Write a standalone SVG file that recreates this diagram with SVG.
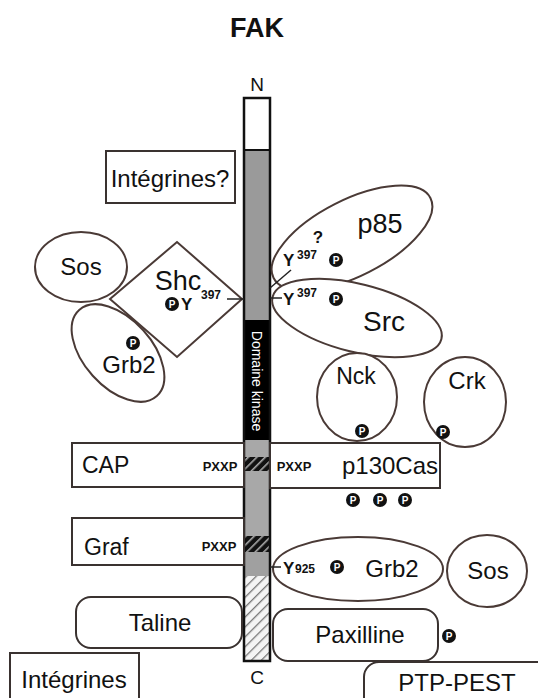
<svg xmlns="http://www.w3.org/2000/svg" width="538" height="698" viewBox="0 0 538 698">
<style>
text{font-family:"Liberation Sans",Arial,sans-serif;fill:#111}
.sh{fill:#fff;stroke:#4a3a36;stroke-width:2}
.bx{fill:#fff;stroke:#3a3230;stroke-width:2}
.lbl{font-size:24px;text-anchor:middle}
.lbll{font-size:23px}
.pc{fill:#111}
.pt{fill:#fff;font-size:10px;font-weight:bold;text-anchor:middle}
.small{font-size:13px;font-weight:bold}
.y{font-size:17px;font-weight:bold}
.sup{font-size:12px;font-weight:bold}
.dash{stroke:#222;stroke-width:1.5}
</style>
<defs>
<pattern id="darkHatch" patternUnits="userSpaceOnUse" width="6" height="6" patternTransform="rotate(45)">
<rect width="6" height="6" fill="#111"/>
<rect width="1.6" height="6" fill="#aaa"/>
</pattern>
<pattern id="lightHatch" patternUnits="userSpaceOnUse" width="7" height="7" patternTransform="rotate(45)">
<rect width="7" height="7" fill="#f4f4f4"/>
<rect width="1.3" height="7" fill="#777"/>
</pattern>
<g id="P"><circle r="7" class="pc"/><text y="3.6" class="pt">P</text></g>
</defs>

<text x="257" y="37" font-size="27" font-weight="bold" text-anchor="middle">FAK</text>
<text x="257" y="91" font-size="19" text-anchor="middle">N</text>
<text x="257" y="684" font-size="19" text-anchor="middle">C</text>

<g id="fak">
<rect x="244" y="98" width="26" height="52" fill="#fff"/>
<rect x="244" y="150" width="26" height="170" fill="#9a9a9a"/>
<rect x="244" y="320" width="26" height="120" fill="#000"/>
<rect x="244" y="440" width="26" height="17" fill="#a8a8a8"/>
<rect x="244" y="457" width="26" height="14" fill="url(#darkHatch)"/>
<rect x="244" y="471" width="26" height="65" fill="#a8a8a8"/>
<rect x="244" y="536" width="26" height="16" fill="url(#darkHatch)"/>
<rect x="244" y="552" width="26" height="24" fill="#a0a0a0"/>
<rect x="244" y="576" width="26" height="85" fill="url(#lightHatch)"/>
<line x1="244" y1="150" x2="270" y2="150" stroke="#111" stroke-width="2"/>
<rect x="244" y="98" width="26" height="563" fill="none" stroke="#111" stroke-width="2.5"/>
<text transform="translate(252,381) rotate(90)" font-size="14" text-anchor="middle" style="fill:#fff">Domaine kinase</text>
</g>

<g id="integrines-q">
<rect x="106" y="151" width="129" height="52" class="bx"/>
<text x="170" y="187" class="lbl">Intégrines?</text>
</g>

<g id="sos-left">
<ellipse cx="81" cy="267" rx="46" ry="35" class="sh"/>
<text x="81" y="275" class="lbl">Sos</text>
</g>

<g id="grb2-left">
<ellipse cx="118" cy="353" rx="58" ry="34" transform="rotate(48 118 353)" class="sh"/>
<use href="#P" x="133" y="343"/>
<text x="129" y="373" class="lbl">Grb2</text>
</g>

<g id="shc">
<polygon points="110,299 177,242 242,299 177,357" class="sh"/>
<text x="178" y="290" font-size="27" text-anchor="middle">Shc</text>
<use href="#P" x="172" y="304"/>
<text x="181" y="310" class="y">Y</text>
<text x="201" y="299" class="sup">397</text>
<line x1="227" y1="299" x2="244" y2="299" class="dash"/>
</g>

<g id="p85">
<ellipse cx="352" cy="238" rx="88" ry="38" transform="rotate(-27 352 238)" class="sh"/>
<text x="380" y="233" font-size="27" text-anchor="middle">p85</text>
<text x="318" y="243" font-size="17" font-weight="bold" text-anchor="middle">?</text>
<text x="283" y="266" class="y">Y</text>
<text x="297" y="259" class="sup">397</text>
<use href="#P" x="336" y="260"/>
<line x1="270" y1="288" x2="291" y2="270" class="dash" stroke-width="1.2"/>
</g>

<g id="src">
<ellipse cx="357" cy="318" rx="87" ry="34" transform="rotate(14 357 318)" class="sh"/>
<text x="384" y="331" font-size="28" text-anchor="middle">Src</text>
<line x1="270" y1="298" x2="282" y2="298" class="dash"/>
<text x="283" y="305" class="y">Y</text>
<text x="297" y="297" class="sup">397</text>
<use href="#P" x="336" y="299"/>
</g>

<g id="nck">
<ellipse cx="357" cy="397" rx="40" ry="44" class="sh"/>
<text x="356" y="384" font-size="23" text-anchor="middle">Nck</text>
<use href="#P" x="362" y="431"/>
</g>

<g id="crk">
<ellipse cx="465" cy="402" rx="41" ry="45" class="sh"/>
<text x="467" y="389" font-size="24" text-anchor="middle">Crk</text>
</g>

<g id="cap">
<rect x="72" y="443" width="172" height="44" class="bx"/>
<text x="82" y="473" class="lbll">CAP</text>
<text x="220" y="471" class="small" text-anchor="middle">PXXP</text>
</g>

<g id="p130cas">
<rect x="270" y="443" width="170" height="45" class="bx"/>
<text x="294" y="471" class="small" text-anchor="middle">PXXP</text>
<text x="390" y="474" font-size="24" text-anchor="middle">p130Cas</text>
<use href="#P" x="353" y="500"/>
<use href="#P" x="380" y="500"/>
<use href="#P" x="405" y="500"/>
</g>
<use href="#P" x="443" y="432"/>

<g id="graf">
<rect x="72" y="518" width="172" height="47" class="bx"/>
<text x="84" y="555" class="lbll" font-size="24">Graf</text>
<text x="219" y="551" class="small" text-anchor="middle">PXXP</text>
</g>

<g id="grb2-right">
<ellipse cx="358" cy="569" rx="85" ry="32" class="sh"/>
<line x1="270" y1="567" x2="281" y2="567" class="dash"/>
<text x="283" y="574" class="y">Y</text>
<text x="295" y="573" class="sup">925</text>
<use href="#P" x="337" y="567"/>
<text x="392" y="577" class="lbl">Grb2</text>
</g>

<g id="sos-right">
<ellipse cx="487" cy="571" rx="40" ry="36" class="sh"/>
<text x="488" y="579" class="lbl" font-size="25">Sos</text>
</g>

<g id="taline">
<rect x="76" y="597" width="166" height="51" rx="15" class="bx"/>
<text x="160" y="631" class="lbl" font-size="23">Taline</text>
</g>

<g id="paxilline">
<rect x="273" y="609" width="165" height="52" rx="15" class="bx"/>
<text x="360" y="643" class="lbl">Paxilline</text>
<use href="#P" x="449" y="636"/>
</g>

<g id="integrines">
<rect x="10" y="653" width="129" height="50" class="bx"/>
<text x="74" y="688" class="lbl">Intégrines</text>
</g>

<g id="ptp-pest">
<rect x="364" y="662" width="190" height="50" rx="15" class="bx"/>
<text x="457" y="691" class="lbl">PTP-PEST</text>
</g>
</svg>
